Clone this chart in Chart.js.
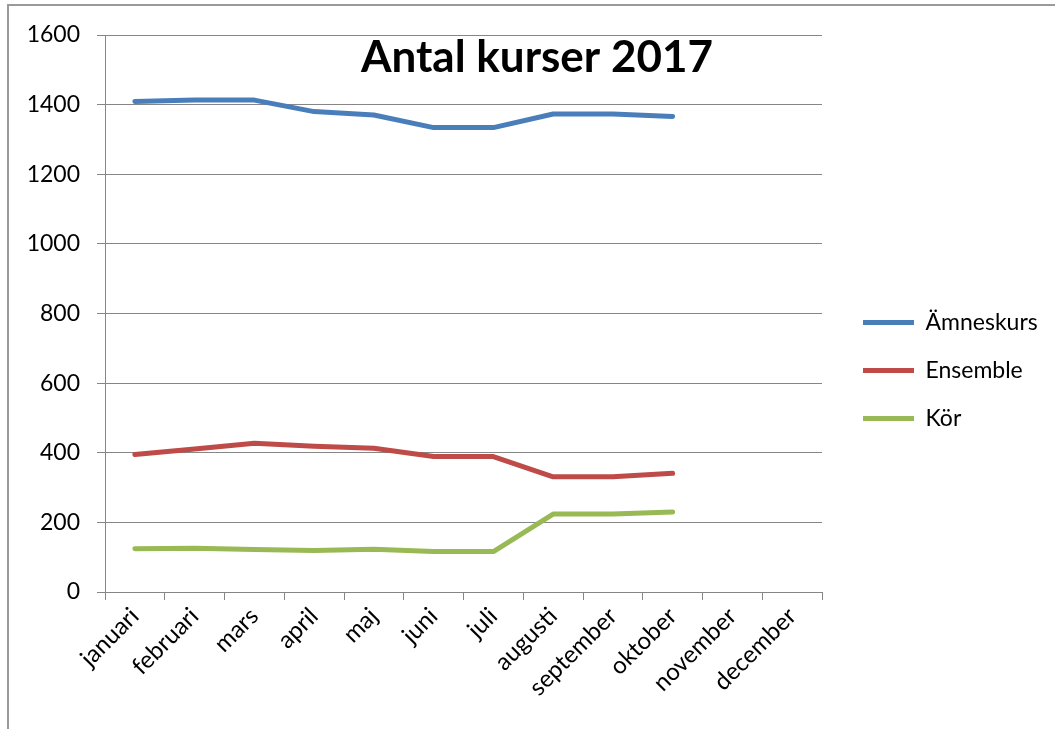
<!DOCTYPE html>
<html>
<head>
<meta charset="utf-8">
<script src="https://cdn.jsdelivr.net/npm/chart.js@4.4.1/dist/chart.umd.min.js"></script>
<style>
  html, body { margin: 0; padding: 0; background: #fff; overflow: hidden; }
  #wrap { position: relative; width: 1055px; height: 729px; }
  #c { position: absolute; left: 0; top: 0; }
  #frame { position: absolute; left: 7px; top: 4px; width: 1200px; height: 900px;
           border: 2px solid #9a9a9a; pointer-events: none; box-sizing: border-box; }
</style>
</head>
<body>
<div id="wrap">
  <canvas id="c" width="1055" height="729"></canvas>
  <div id="frame"></div>
</div>
<script>
const chartTitle = 'Antal kurser 2017';
const months = ['januari', 'februari', 'mars', 'april', 'maj', 'juni', 'juli',
                'augusti', 'september', 'oktober', 'november', 'december'];
const seriesNames = ['Ämneskurs', 'Ensemble', 'Kör'];
const amneskurs = [1409, 1413, 1413, 1380, 1370, 1334, 1334, 1373, 1373, 1366, null, null];
const ensemble  = [395, 411, 427, 419, 413, 389, 389, 331, 331, 341, null, null];
const kor       = [124, 126, 122, 119, 123, 116, 116, 224, 224, 230, null, null];
const yTicks = [0, 200, 400, 600, 800, 1000, 1200, 1400, 1600];

const colors = ['#4a7ebb', '#be4b48', '#98b954'];
const gridColor = '#868686';
const FONT = 'Lato, "Open Sans", "Liberation Sans", sans-serif';

function ds(label, data, color) {
  return {
    label: label,
    data: data,
    borderColor: color,
    backgroundColor: color,
    borderWidth: 5,
    pointRadius: 0,
    pointHoverRadius: 0,
    tension: 0,
    borderCapStyle: 'round',
    borderJoinStyle: 'round',
    spanGaps: false
  };
}

const legendFix = {
  id: 'legendFix',
  afterInit(chart) {
    const lg = chart.legend;
    if (!lg || lg._fixed) return;
    const orig = lg.fit.bind(lg);
    lg.fit = function () { orig(); this.width = 233; };
    lg._fixed = true;
  },
  afterLayout(chart) {
    const lg = chart.legend;
    if (!lg) return;
    lg.left += 16; lg.right += 16;
    lg.top += 6; lg.bottom += 6;
  }
};

new Chart(document.getElementById('c'), {
  type: 'line',
  data: {
    labels: months,
    datasets: [
      ds(seriesNames[0], amneskurs, colors[0]),
      ds(seriesNames[1], ensemble, colors[1]),
      ds(seriesNames[2], kor, colors[2])
    ]
  },
  options: {
    responsive: false,
    animation: false,
    devicePixelRatio: 1,
    layout: { padding: { left: 19, right: 0, top: 0, bottom: 0 } },
    plugins: {
      tooltip: { enabled: false },
      title: {
        display: true,
        text: chartTitle,
        color: '#000',
        font: { family: FONT, size: 44, weight: 'bold', lineHeight: 1.2 },
        padding: { top: 31, bottom: -48.8 }
      },
      legend: {
        display: true,
        position: 'right',
        labels: {
          color: '#000',
          font: { family: FONT, size: 23 },
          usePointStyle: true,
          pointStyle: 'line',
          pointStyleWidth: 51,
          padding: 25
        }
      }
    },
    scales: {
      x: {
        type: 'category',
        offset: true,
        grid: {
          display: true,
          offset: true,
          drawOnChartArea: false,
          drawTicks: true,
          tickLength: 8,
          color: gridColor,
          lineWidth: 1
        },
        border: { display: true, color: gridColor, width: 1 },
        ticks: {
          color: '#000',
          font: { family: FONT, size: 24 },
          minRotation: 45,
          maxRotation: 45,
          autoSkip: false,
          padding: 2
        },
        afterFit(scale) { scale.height = 137; }
      },
      y: {
        min: 0,
        max: 1600,
        afterBuildTicks(scale) { scale.ticks = yTicks.map(v => ({ value: v })); },
        grid: {
          display: true,
          drawOnChartArea: true,
          drawTicks: true,
          tickLength: 8,
          color: gridColor,
          lineWidth: 1
        },
        border: { display: true, color: gridColor, width: 1 },
        ticks: {
          color: '#000',
          font: { family: FONT, size: 23 },
          padding: 17,
          callback: (v) => String(v)
        },
        afterFit(scale) { scale.width = 86; }
      }
    }
  },
  plugins: [legendFix]
});
</script>
</body>
</html>
